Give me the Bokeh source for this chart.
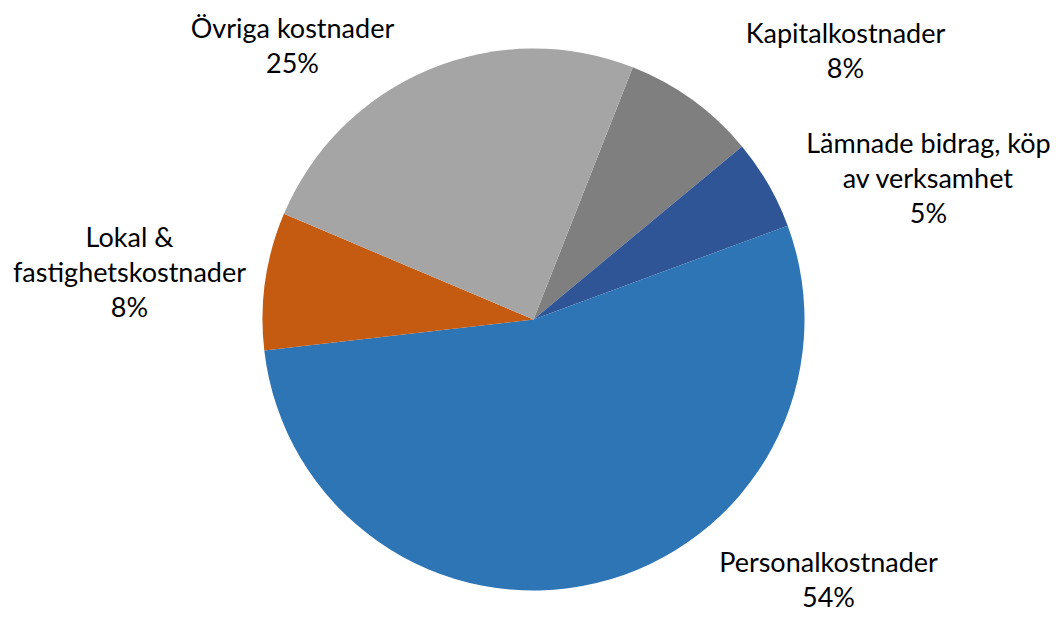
import math
from bokeh.plotting import figure
from bokeh.models import Range1d, ColumnDataSource
from bokeh.core.properties import value
from bokeh.embed import file_html
from bokeh.resources import INLINE

# Data (clockwise order starting from the first slice)
categories = ["Kapitalkostnader", "Lämnade bidrag, köp av verksamhet",
              "Personalkostnader", "Lokal & fastighetskostnader", "Övriga kostnader"]
values = [8.0, 5.4, 53.8, 8.2, 24.6]
label_lines = [["Kapitalkostnader"], ["Lämnade bidrag, köp", "av verksamhet"],
               ["Personalkostnader"], ["Lokal &", "fastighetskostnader"], ["Övriga kostnader"]]

# Styles / layout
colors = ["#7F7F7F", "#2F5597", "#2E75B6", "#C55A11", "#A5A5A5"]
first_slice_deg = 21.5
W, H = 1059, 617
cx, cy, R = 533, 319, 271          # page pixels (y from top)
# label anchor (page pixel x center, first baseline y)
label_pos = [(845, 42), (928, 152), (828, 571), (129, 246), (292, 37)]
line_gap = 35
baseline_fix = 10
font = "Lato"
font_size = "27px"

p = figure(width=W, height=H, output_backend="svg", toolbar_location=None,
           x_range=Range1d(0, W), y_range=Range1d(0, H), min_border=0)
p.axis.visible = False
p.grid.visible = False
p.outline_line_color = None
p.background_fill_color = "white"
p.border_fill_color = "white"

total = sum(values)
starts, ends = [], []
acc = first_slice_deg
for v in values:
    a1 = acc
    a2 = acc + v / total * 360.0
    starts.append(math.radians(90 - a1))
    ends.append(math.radians(90 - a2))
    acc = a2

src = ColumnDataSource(dict(x=[cx] * len(values), y=[H - cy] * len(values),
                            start=starts, end=ends, color=colors, cat=categories))
p.wedge(x="x", y="y", radius=R, start_angle="start", end_angle="end",
        direction="clock", fill_color="color", line_color=None, source=src)

tx, ty, tt = [], [], []
for lines, v, (px, py) in zip(label_lines, values, label_pos):
    all_lines = lines + [f"{round(v / total * 100)}%"]
    for i, ln in enumerate(all_lines):
        tx.append(px)
        ty.append(H - (py + i * line_gap - baseline_fix))
        tt.append(ln)

p.text(x=tx, y=ty, text=tt, text_align="center", text_baseline="alphabetic",
       text_font=value(font), text_font_size=font_size, text_color="#000000")

open("out.html", "w").write(file_html(p, INLINE))
